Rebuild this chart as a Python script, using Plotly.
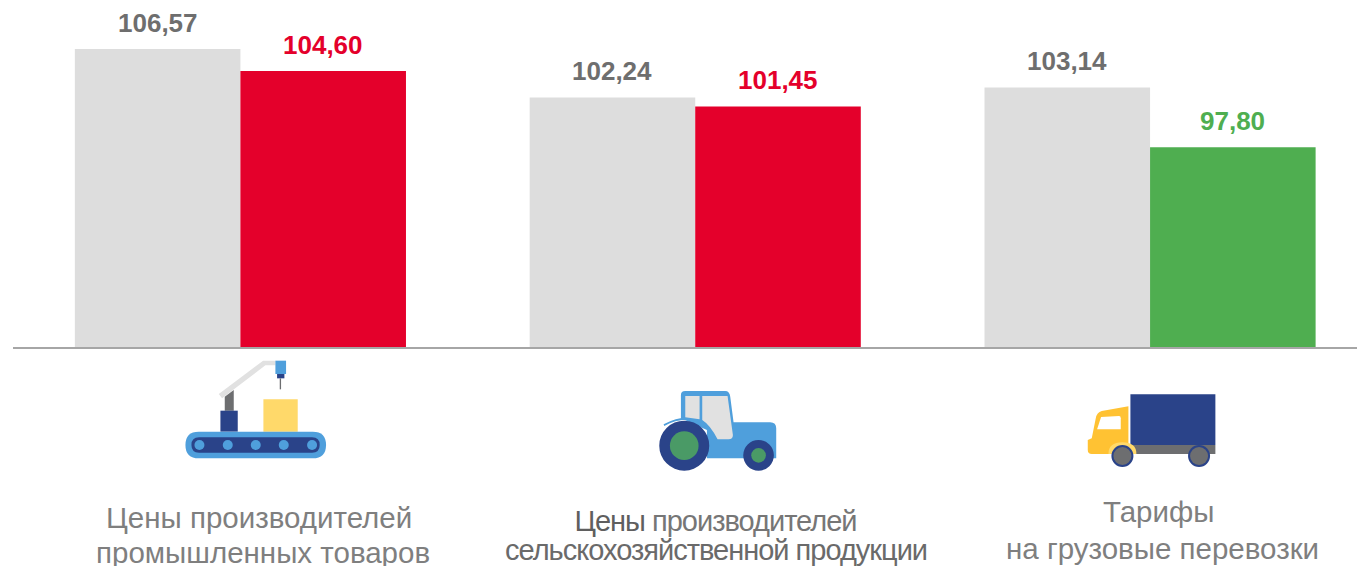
import re
import plotly.graph_objects as go

categories = ["Промышленные товары", "Сельхозпродукция", "Грузовые перевозки"]
prior_values = [106.57, 102.24, 103.14]
current_values = [104.60, 101.45, 97.80]
current_colors = ["#E4002B", "#E4002B", "#4FAE50"]
label_lines = [
    ("Цены производителей", 258.5, 517, 29.5, "#7F7F7F"), ("промышленных товаров", 262.5, 552, 29.5, "#7F7F7F"),
    ("<span style='fill:#5F5F5F'>Цены</span> производителей", 715.5, 521, 29, "#767676"),
    ("сельскохозяйственной продукции", 716, 549.5, 29, "#6A6A6A"),
    ("Тарифы", 1158.5, 511.5, 29.5, "#7F7F7F"), ("на грузовые перевозки", 1162, 548.5, 29.5, "#7F7F7F"),
]

W, H = 1357, 566
ML, BASE = 12.5, 347
PW, PH = W - ML, BASE
BLUE, NAVY, GREY, LGREY, YEL, AMB, GRN = "#4F9FDC", "#2A4389", "#6D6E70", "#E1E1E1", "#FFD96A", "#FFC233", "#4A9A66"


def X(p):
    return (p - ML) / PW


def Y(p):
    return (BASE - p) / PH


def path(d, ox, oy, color):
    """Icon path given in zoom-crop coordinates (3x) with crop origin ox, oy."""
    toks = re.findall(r"[MLQZ]|-?[\d.]+", d)
    out, is_x = [], True
    for t in toks:
        if t in "MLQZ":
            out.append(t)
            is_x = True
        else:
            v = float(t) / 3
            out.append(f"{X(ox + v):.5f}" if is_x else f"{Y(oy + v):.5f}")
            is_x = not is_x
    return dict(type="path", xref="paper", yref="paper", path=" ".join(out),
                fillcolor=color, line=dict(width=0))


def circ(cx, cy, r, ox, oy, color):
    cx, cy, r = ox + cx / 3, oy + cy / 3, r / 3
    return dict(type="circle", xref="paper", yref="paper", x0=X(cx - r), x1=X(cx + r),
                y0=Y(cy + r), y1=Y(cy - r), fillcolor=color, line=dict(width=0))


def rect(x0, y0, x1, y1):
    return f"M{x0},{y0} L{x1},{y0} L{x1},{y1} L{x0},{y1} Z"


def rrect(x0, y0, x1, y1, r):
    return (f"M{x0+r},{y0} L{x1-r},{y0} Q{x1},{y0} {x1},{y0+r} L{x1},{y1-r} Q{x1},{y1} {x1-r},{y1} "
            f"L{x0+r},{y1} Q{x0},{y1} {x0},{y1-r} L{x0},{y0+r} Q{x0},{y0} {x0+r},{y0} Z")


shapes = []
# conveyor icon
o = (170, 350)
shapes += [
    path("M145,132 L278,32 L315,32 L315,46 L285,46 L155,145 Z", *o, LGREY),
    path("M163,140 L190,120 L190,182 L163,182 Z", *o, GREY),
    path(rect(150, 182, 202, 245), *o, NAVY),
    path(rect(279, 148, 382, 245), *o, YEL),
    path(rect(315, 32, 347, 72), *o, BLUE),
    path(rect(320, 72, 342, 85), *o, NAVY),
    path(rect(328, 85, 332, 118), *o, GREY),
    path(rrect(45, 245, 467, 325, 40), *o, BLUE),
    path(rrect(63, 262, 448, 308, 23), *o, NAVY),
]
shapes += [circ(c, 285, 15, *o, BLUE) for c in (87, 172, 256, 340, 425)]
# tractor icon
o = (640, 380)
shapes += [
    path("M122,115 L122,45 Q122,33 135,33 L255,33 Q268,33 270,50 L280,127 L390,127 Q408,127 408,145 "
         "L408,235 L200,235 L200,150 Z", *o, BLUE),
    path("M70,133 Q130,100 180,120 L190,130 Q130,105 72,138 Z", *o, BLUE),
    path("M135,48 L178,48 L178,118 L135,112 Z", *o, LGREY),
    path("M186,48 L262,48 L278,165 Q278,178 265,178 L232,178 Q210,135 186,120 Z", *o, LGREY),
    circ(132, 197, 75, *o, NAVY), circ(132, 197, 43, *o, GRN),
    circ(355, 226, 46, *o, NAVY), circ(355, 226, 22, *o, GRN),
]
# truck icon
o = (1075, 385)
shapes += [
    path(rect(166, 28, 421, 180), *o, NAVY),
    path(rect(160, 180, 421, 207), *o, GREY),
    path("M160,64 L80,78 Q65,82 62,100 L50,160 L38,165 L38,195 Q38,207 50,207 L160,207 Z", *o, AMB),
    path("M78,96 L132,93 Q137,93 137,100 L137,133 L66,133 Z", *o, "#FFFFFF"),
    path("M100,207 Q100,172 142,172 Q184,172 184,207 Z", *o, YEL),
    circ(142, 213, 33, *o, NAVY), circ(142, 213, 27, *o, GREY),
    circ(372, 213, 33, *o, NAVY), circ(372, 213, 27, *o, GREY),
]

annotations = [
    dict(text=t, xref="paper", yref="paper", x=X(px), y=Y(py), xanchor="center", yanchor="middle",
         showarrow=False, font=dict(size=s, color=c, family="Liberation Sans"))
    for t, px, py, s, c in label_lines
]

BAR_OFFSET = 0.182
for i in range(len(categories)):
    for vals, col, dx in ((prior_values, "#6E6E6E", -BAR_OFFSET), (current_values, current_colors[i], BAR_OFFSET)):
        annotations.append(dict(
            text=f"{vals[i]:.2f}".replace(".", ","), xref="x", yref="y", x=i + dx, y=vals[i],
            xanchor="center", yanchor="middle", yshift=26.5, showarrow=False,
            font=dict(size=26, color=col, family="Liberation Sans", weight="bold")))

fig = go.Figure()
fig.add_bar(x=categories, y=prior_values, name="Предыдущий", marker=dict(color="#DDDDDD", line_width=0))
fig.add_bar(x=categories, y=current_values, name="Текущий", marker=dict(color=current_colors, line_width=0))
fig.update_layout(
    width=W, height=H, margin=dict(l=ML, r=0, t=0, b=H - BASE, pad=0),
    barmode="group", bargap=0.272, bargroupgap=0, showlegend=False,
    plot_bgcolor="white", paper_bgcolor="white", shapes=shapes, annotations=annotations,
)
fig.update_xaxes(type="category", range=[-0.5, 2.455], showline=True, linecolor="#A6A6A6", linewidth=2,
                 showticklabels=False, ticks="", showgrid=False, zeroline=False)
fig.update_yaxes(range=[80, 110.94], visible=False, showgrid=False, zeroline=False)
post = """
document.body.style.margin='0';document.body.style.overflow='hidden';
document.querySelectorAll('.annotation-text').forEach(function(t){
  if (t.textContent.indexOf('сельскохозяйственной')===0 || t.querySelector('tspan[style*="5F5F5F"]')) {
    t.style.letterSpacing='-1px';
  }
});
"""
fig.write_html("out.html", post_script=post, config={"displayModeBar": False})
